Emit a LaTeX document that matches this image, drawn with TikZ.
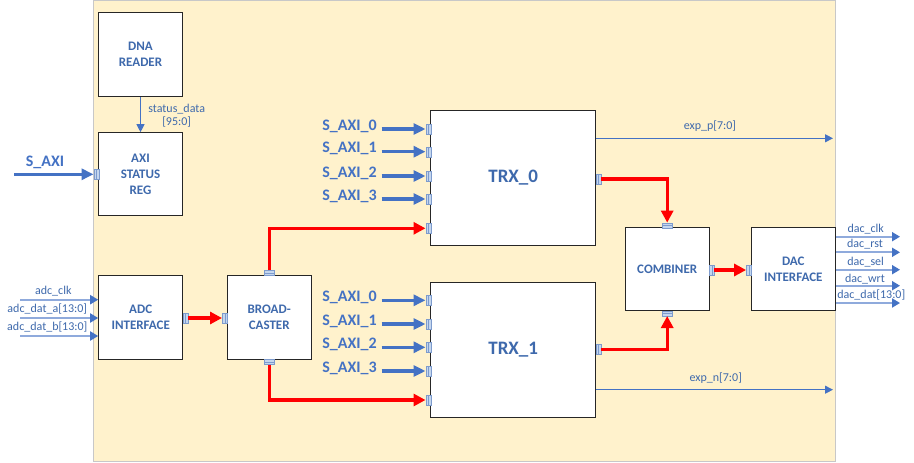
\documentclass[tikz,border=0pt]{standalone}
\usepackage{fontspec}
\setmainfont{Carlito}
\usetikzlibrary{arrows.meta}
\definecolor{bg}{RGB}{255,242,204}
\definecolor{bgline}{RGB}{200,200,200}
\definecolor{txt}{RGB}{62,105,172}
\definecolor{abl}{RGB}{68,114,196}
\definecolor{lbl}{RGB}{143,170,220}
\definecolor{rd}{RGB}{255,0,0}
\definecolor{portf}{RGB}{196,214,238}
\definecolor{portd}{RGB}{125,155,205}
\begin{document}
\begin{tikzpicture}[x=1pt,y=-1pt,
  box/.style={draw=black!85, line width=1pt, fill=white, inner sep=0pt, text=txt, align=center,
    font=\fontsize{13}{16}\selectfont\bfseries},
  smallbox/.style={box, minimum width=84pt, minimum height=84pt},
  bigbox/.style={box, minimum width=165pt, minimum height=135pt, font=\fontsize{19}{22}\selectfont\bfseries},
  vport/.style={draw=portd, fill=portf, line width=0.4pt, minimum width=5pt, minimum height=10pt, inner sep=0pt,
    path picture={\draw[portd, line width=0.3pt] (path picture bounding box.north) -- (path picture bounding box.south);}},
  hport/.style={draw=portd, fill=portf, line width=0.4pt, minimum width=10pt, minimum height=5pt, inner sep=0pt,
    path picture={\draw[portd, line width=0.3pt] (path picture bounding box.west) -- (path picture bounding box.east);}},
  redarrow/.style={draw=rd, line width=3.3pt, -{Triangle[length=12pt,width=12pt]}},
  axiarrow/.style={draw=abl, line width=3.5pt, -{Triangle[length=12pt,width=11pt]}},
  thinarrow/.style={draw=abl, line width=1pt, -{Triangle[length=8pt,width=8pt]}},
  iolarrow/.style={draw=lbl, line width=1.8pt, -{Triangle[length=8pt,width=9pt,color=abl,fill=abl]}},
  axilabel/.style={text=abl, font=\fontsize{16}{18}\selectfont\bfseries, inner sep=0pt},
  sig/.style={text=txt, font=\fontsize{12}{13.5}\selectfont, inner sep=0pt, align=center}
]
\useasboundingbox (0,0) rectangle (914,463);
\fill[white] (0,0) rectangle (914,463);
% background
\draw[bgline, fill=bg, line width=1pt] (93.5,0.5) rectangle (835,461);

% boxes
\node[smallbox] (dna) at (140.5,54.3) {DNA\\READER};
\node[smallbox, minimum height=83pt] (axi) at (140.5,174.2) {AXI\\STATUS\\REG};
\node[smallbox] (adc) at (140.7,317.5) {ADC\\INTERFACE};
\node[smallbox] (bc) at (269.2,317.5) {BROAD-\\CASTER};
\node[bigbox] (trx0) at (513.2,178) {TRX\_0};
\node[bigbox] (trx1) at (513.2,349.8) {TRX\_1};
\node[smallbox, minimum height=83pt] (comb) at (667.2,269.3) {COMBINER};
\node[smallbox, minimum height=83pt] (dac) at (793.3,269.3) {DAC\\INTERFACE};

% ports
\node[vport] (pAxi) at (96.2,174.3) {};
\node[vport] (pAdc) at (185.2,318) {};
\node[vport] (pBcL) at (224.7,318) {};
\node[hport] (pBcT) at (269.2,273) {};
\node[hport] (pBcB) at (269.2,362) {};
\node[vport] (t0a) at (428.2,129) {};
\node[vport] (t0b) at (428.2,151.7) {};
\node[vport] (t0c) at (428.2,176) {};
\node[vport] (t0d) at (428.2,199) {};
\node[vport] (t0e) at (428.2,228.3) {};
\node[vport] (t0o) at (598.2,179) {};
\node[vport] (t1a) at (428.2,300.3) {};
\node[vport] (t1b) at (428.2,324) {};
\node[vport] (t1c) at (428.2,347.3) {};
\node[vport] (t1d) at (428.2,371) {};
\node[vport] (t1e) at (428.2,400) {};
\node[vport] (t1o) at (598.2,349.3) {};
\node[hport] (cT) at (667.2,225.3) {};
\node[hport] (cB) at (667.2,313.3) {};
\node[vport] (cR) at (711.7,270) {};
\node[vport] (dL) at (748.8,270) {};

% red data paths
\draw[redarrow] (pAdc.east) -- (pBcL.west);
\draw[redarrow] (pBcT.north) |- (t0e.west);
\draw[redarrow] (pBcB.south) |- (t1e.west);
\draw[redarrow] (t0o.east) -| (cT.north);
\draw[redarrow] (t1o.east) -| (cB.south);
\draw[redarrow] (cR.east) -- (dL.west);

% S_AXI main
\coordinate (sIn) at (14,174.3);
\draw[axiarrow] (sIn) -- (pAxi.west);
\node[axilabel, anchor=base] (sInL) at (45,166.7) {S\_AXI};

% status data
\draw[thinarrow] (dna.south) -- (axi.north);
\node[sig] (sd) at (176.7,115.5) {status\_data\\{}[95:0]};

% S_AXI to TRX_0
\coordinate (s00) at (381.7,129);
\coordinate (s01) at (381.7,151.7);
\coordinate (s02) at (381.7,176);
\coordinate (s03) at (381.7,199);
\draw[axiarrow] (s00) -- (t0a.west);
\draw[axiarrow] (s01) -- (t0b.west);
\draw[axiarrow] (s02) -- (t0c.west);
\draw[axiarrow] (s03) -- (t0d.west);
\node[axilabel, anchor=base east] (l00) at (377,130) {S\_AXI\_0};
\node[axilabel, anchor=base east] (l01) at (377,152.7) {S\_AXI\_1};
\node[axilabel, anchor=base east] (l02) at (377,177) {S\_AXI\_2};
\node[axilabel, anchor=base east] (l03) at (377,200) {S\_AXI\_3};

% S_AXI to TRX_1
\coordinate (s10) at (381.7,300.3);
\coordinate (s11) at (381.7,324);
\coordinate (s12) at (381.7,347.3);
\coordinate (s13) at (381.7,371);
\draw[axiarrow] (s10) -- (t1a.west);
\draw[axiarrow] (s11) -- (t1b.west);
\draw[axiarrow] (s12) -- (t1c.west);
\draw[axiarrow] (s13) -- (t1d.west);
\node[axilabel, anchor=base east] (l10) at (377,301.3) {S\_AXI\_0};
\node[axilabel, anchor=base east] (l11) at (377,325) {S\_AXI\_1};
\node[axilabel, anchor=base east] (l12) at (377,348.3) {S\_AXI\_2};
\node[axilabel, anchor=base east] (l13) at (377,372) {S\_AXI\_3};

% ADC inputs
\coordinate (ai1) at (20,299.7);
\coordinate (ai2) at (20,318);
\coordinate (ai3) at (20,336);
\draw[iolarrow] (ai1) -- (adc.west |- ai1);
\draw[iolarrow] (ai2) -- (adc.west |- ai2);
\draw[iolarrow] (ai3) -- (adc.west |- ai3);
\node[sig, anchor=base] (la1) at (53.3,294.3) {adc\_clk};
\node[sig, anchor=base] (la2) at (47.3,312.3) {adc\_dat\_a[13:0]};
\node[sig, anchor=base] (la3) at (47.3,330.3) {adc\_dat\_b[13:0]};

% exp outputs
\coordinate (ep) at (833,138.3);
\coordinate (en) at (833,389.7);
\draw[thinarrow] (trx0.east |- ep) -- (ep);
\draw[thinarrow] (trx1.east |- en) -- (en);
\node[sig, anchor=base] (lep) at (710,129) {exp\_p[7:0]};
\node[sig, anchor=base] (len) at (715.8,381) {exp\_n[7:0]};

% DAC outputs
\coordinate (do1) at (900,236.7);
\coordinate (do2) at (900,252.3);
\coordinate (do3) at (900,269.7);
\coordinate (do4) at (900,285.7);
\coordinate (do5) at (900,303);
\draw[iolarrow] (dac.east |- do1) -- (do1);
\draw[iolarrow] (dac.east |- do2) -- (do2);
\draw[iolarrow] (dac.east |- do3) -- (do3);
\draw[iolarrow] (dac.east |- do4) -- (do4);
\draw[iolarrow] (dac.east |- do5) -- (do5);
\node[sig, anchor=base] (ld1) at (865.7,232) {dac\_clk};
\node[sig, anchor=base] (ld2) at (865,247.3) {dac\_rst};
\node[sig, anchor=base] (ld3) at (865.7,265.3) {dac\_sel};
\node[sig, anchor=base] (ld4) at (865,282) {dac\_wrt};
\node[sig, anchor=base] (ld5) at (871.3,298) {dac\_dat[13:0]};
\end{tikzpicture}
\end{document}
